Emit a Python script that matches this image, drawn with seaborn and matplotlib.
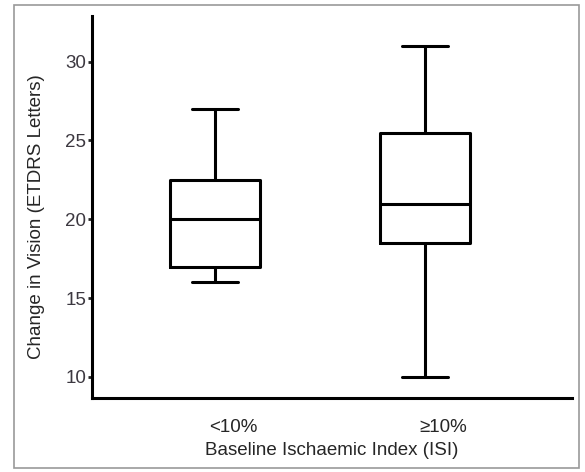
import matplotlib
matplotlib.use("Agg")
import matplotlib.pyplot as plt
import matplotlib.transforms as mtransforms
import seaborn as sns
import pandas as pd
from matplotlib.patches import Rectangle

# Data: five-number summaries (min, Q1, median, Q3, max)
categories = ["<10%", "\u226510%"]
low_isi = [16, 17, 20, 22.5, 27]
high_isi = [10, 18.5, 21, 25.5, 31]
yticks = [10, 15, 20, 25, 30]

df = pd.DataFrame({
    "group": [categories[0]] * len(low_isi) + [categories[1]] * len(high_isi),
    "value": low_isi + high_isi,
})

sns.set_style("white")
plt.rcParams["font.family"] = ["Liberation Sans", "DejaVu Sans"]

fig = plt.figure(figsize=(5.85, 4.72), dpi=100)
ax = fig.add_axes([92 / 585, 1 - 398 / 472, (572 - 92) / 585, (398 - 16) / 472])

lw = 2.2
sns.boxplot(data=df, x="group", y="value", order=categories, ax=ax,
            whis=(0, 100), width=0.43, fill=False, color="black",
            linewidth=lw, showfliers=False)

# cap width
for line in ax.lines:
    xd = line.get_xdata()
    yd = line.get_ydata()
    if len(xd) == 2 and yd[0] == yd[1] and 0 < abs(xd[1] - xd[0]) < 0.35:
        c = (xd[0] + xd[1]) / 2
        line.set_xdata([c - 0.11, c + 0.11])

fs = 13.5
ax.set_xlim(-0.586, 1.70)
ax.set_ylim(8.66, 32.9)
ax.set_yticks(yticks)
ax.set_yticklabels([str(t) for t in yticks], fontsize=fs, color="#3c3840")
ax.tick_params(axis="y", length=3, width=2, pad=1, left=True, direction="out")
ax.tick_params(axis="x", length=0, pad=15, labelsize=fs)
offset = mtransforms.ScaledTranslation(18 / 100, 0, fig.dpi_scale_trans)
for lab in ax.get_xticklabels():
    lab.set_transform(lab.get_transform() + offset)
for s in ["top", "right"]:
    ax.spines[s].set_visible(False)
for s in ["left", "bottom"]:
    ax.spines[s].set_linewidth(lw)
    ax.spines[s].set_color("black")

ax.set_xlabel("Baseline Ischaemic Index (ISI)", fontsize=fs)
ax.set_ylabel("Change in Vision (ETDRS Letters)", fontsize=fs)
ax.xaxis.set_label_coords(0.5, -0.115)
ax.yaxis.set_label_coords(-0.098, 0.474)

fig.patches.append(Rectangle((14 / 585, 1 - 468 / 472), (579 - 14) / 585, (468 - 5) / 472,
                             transform=fig.transFigure, fill=False,
                             edgecolor="#999999", linewidth=1.2))

fig.savefig("out.png", dpi=100)
